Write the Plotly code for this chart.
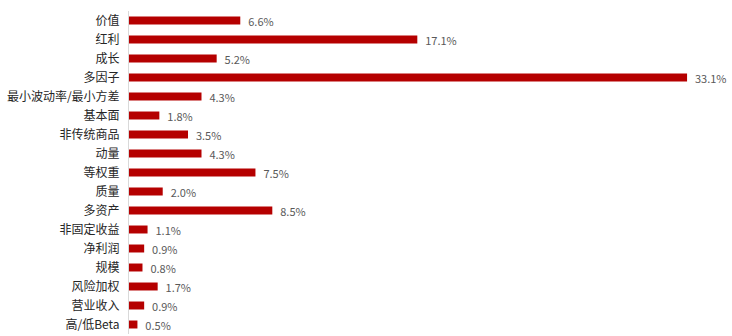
import plotly.graph_objects as go

categories = ["价值", "红利", "成长", "多因子", "最小波动率/最小方差", "基本面", "非传统商品", "动量",
              "等权重", "质量", "多资产", "非固定收益", "净利润", "规模", "风险加权", "营业收入", "高/低Beta"]
values = [6.6, 17.1, 5.2, 33.1, 4.3, 1.8, 3.5, 4.3, 7.5, 2.0, 8.5, 1.1, 0.9, 0.8, 1.7, 0.9, 0.5]
labels = [f"{v:.1f}%" for v in values]

fig = go.Figure()
fig.add_trace(go.Bar(
    x=values, y=categories, orientation="h",
    marker=dict(color="#B50000", line=dict(width=0)),
    text=["  " + t for t in labels], textposition="outside", constraintext="none",
    textfont=dict(size=11, color="#595959", family="Noto Sans CJK SC"),
    cliponaxis=False,
))
W, H = 732, 336
left, right, top, bottom = 129, 10, 11, 2
fig.update_layout(
    width=W, height=H, margin=dict(l=left, r=right, t=top, b=bottom),
    paper_bgcolor="white", plot_bgcolor="white", showlegend=False, bargap=0.58,
    font=dict(family="Noto Sans CJK SC", size=11, color="#262626"),
)
fig.update_xaxes(range=[0, (W - left - right) / 16.86], visible=False)
fig.update_yaxes(autorange="reversed", showline=True, linecolor="#D9D9D9", linewidth=1,
                 ticks="", ticklen=0, ticklabelstandoff=6,
                 tickfont=dict(size=12, color="#262626"), showgrid=False)
fig.write_html("out.html")
